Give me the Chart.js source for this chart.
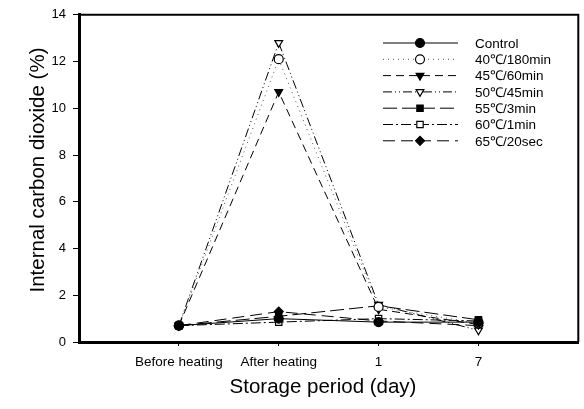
<!DOCTYPE html>
<html>
<head>
<meta charset="utf-8">
<script src="https://cdn.jsdelivr.net/npm/chart.js@4/dist/chart.umd.min.js"></script>
<style>
  html, body { margin: 0; padding: 0; background: #fff; }
  #wrap { width: 584px; height: 409px; }
</style>
</head>
<body>
<div id="wrap"><canvas id="co2"></canvas></div>
<script>
// storage stages (x axis)
const periods = ['Before heating', 'After heating', '1', '7'];
const yTicks = [0, 2, 4, 6, 8, 10, 12, 14];

// internal CO2 (%) per treatment
const control = [0.7, 1.0, 0.85, 0.85];
const t40_180min = [0.7, 12.1, 1.5, 0.8];
const t45_60min = [0.7, 10.7, 1.4, 0.75];
const t50_45min = [0.7, 12.8, 1.6, 0.5];
const t55_3min = [0.7, 1.1, 1.55, 0.95];
const t60_1min = [0.7, 0.85, 1.0, 0.9];
const t65_20sec = [0.7, 1.3, 0.9, 0.7];

const FONT = "'Liberation Sans', Arial, sans-serif";

function series(label, values, dash, style, filled, rot, color) {
    return {
        label: label,
        data: values.map((v, i) => ({ x: i + 1, y: v })),
        borderColor: color || '#000',
        borderWidth: 1,
        borderDash: dash,
        pointStyle: style,
        pointRotation: rot || 0,
        pointRadius: 4.5,
        pointBorderColor: '#000',
        pointBorderWidth: 1.2,
        pointBackgroundColor: filled ? '#000' : '#fff',
        tension: 0
    };
}

const datasets = [
    series('Control', control, [], 'circle', true),
    series('40\u2103/180min', t40_180min, [1, 4], 'circle', false, 0, '#555'),
    series('45\u2103/60min', t45_60min, [8, 5], 'triangle', true, 180),
    series('50\u2103/45min', t50_45min, [9, 3, 1, 3, 1, 3], 'triangle', false, 180),
    series('55\u2103/3min', t55_3min, [14, 5], 'rect', true),
    series('60\u2103/1min', t60_1min, [10, 3, 2, 3], 'rect', false),
    series('65\u2103/20sec', t65_20sec, [12, 6], 'rectRot', true)
];

// box frame, axis titles and the in-plot legend
const decor = {
    id: 'decor',
    afterDraw(chart) {
        const ctx = chart.ctx;
        const a = chart.chartArea;
        ctx.save();
        ctx.strokeStyle = '#000';
        ctx.lineWidth = 2;
        ctx.beginPath();
        ctx.moveTo(a.left, a.top);
        ctx.lineTo(a.right, a.top);
        ctx.lineTo(a.right, a.bottom);
        ctx.stroke();

        ctx.fillStyle = '#000';
        ctx.font = '20.5px ' + FONT;
        ctx.textAlign = 'center';
        ctx.textBaseline = 'middle';
        ctx.fillText('Storage period (day)', 323, 387);
        ctx.save();
        ctx.translate(38, 170);
        ctx.rotate(-Math.PI / 2);
        ctx.fillText('Internal carbon dioxide (%)', 0, 0);
        ctx.restore();

        ctx.font = '13.5px ' + FONT;
        ctx.textAlign = 'left';
        chart.data.datasets.forEach((ds, i) => {
            const y = 43 + i * 16.3;
            ctx.strokeStyle = ds.borderColor;
            ctx.lineWidth = 1;
            ctx.setLineDash(ds.borderDash);
            ctx.beginPath();
            ctx.moveTo(383, y);
            ctx.lineTo(458, y);
            ctx.stroke();
            ctx.setLineDash([]);
            ctx.strokeStyle = '#000';
            ctx.fillStyle = ds.pointBackgroundColor;
            ctx.lineWidth = 1.2;
            Chart.helpers.drawPoint(ctx, {
                pointStyle: ds.pointStyle,
                rotation: ds.pointRotation,
                radius: 4.5,
                borderWidth: 1.2
            }, 420, y);
            ctx.fillStyle = '#000';
            ctx.fillText(ds.label, 475, y + 1);
        });
        ctx.restore();
    }
};

new Chart(document.getElementById('co2'), {
    type: 'line',
    data: { datasets: datasets },
    options: {
        responsive: true,
        maintainAspectRatio: false,
        animation: false,
        layout: { padding: { left: 0, right: 5, top: 13, bottom: 0 } },
        plugins: {
            legend: { display: false },
            tooltip: { enabled: false }
        },
        scales: {
            x: {
                type: 'linear',
                min: 0,
                max: 5,
                afterBuildTicks: s => { s.ticks = periods.map((p, i) => ({ value: i + 1 })); },
                afterFit: s => { s.height = 67; },
                border: { color: '#000', width: 3 },
                grid: { drawOnChartArea: false, color: '#000', tickLength: 4 },
                ticks: {
                    color: '#000',
                    font: { family: FONT, size: 13.5 },
                    padding: 8,
                    maxRotation: 0,
                    autoSkip: false,
                    callback: v => periods[v - 1]
                }
            },
            y: {
                min: 0,
                max: 14,
                afterBuildTicks: s => { s.ticks = yTicks.map(v => ({ value: v })); },
                afterFit: s => { s.width = 79; },
                border: { color: '#000', width: 3 },
                grid: { drawOnChartArea: false, color: '#000', tickLength: 6 },
                ticks: {
                    color: '#000',
                    font: { family: FONT, size: 13 },
                    padding: 7
                }
            }
        }
    },
    plugins: [decor]
});
</script>
</body>
</html>
